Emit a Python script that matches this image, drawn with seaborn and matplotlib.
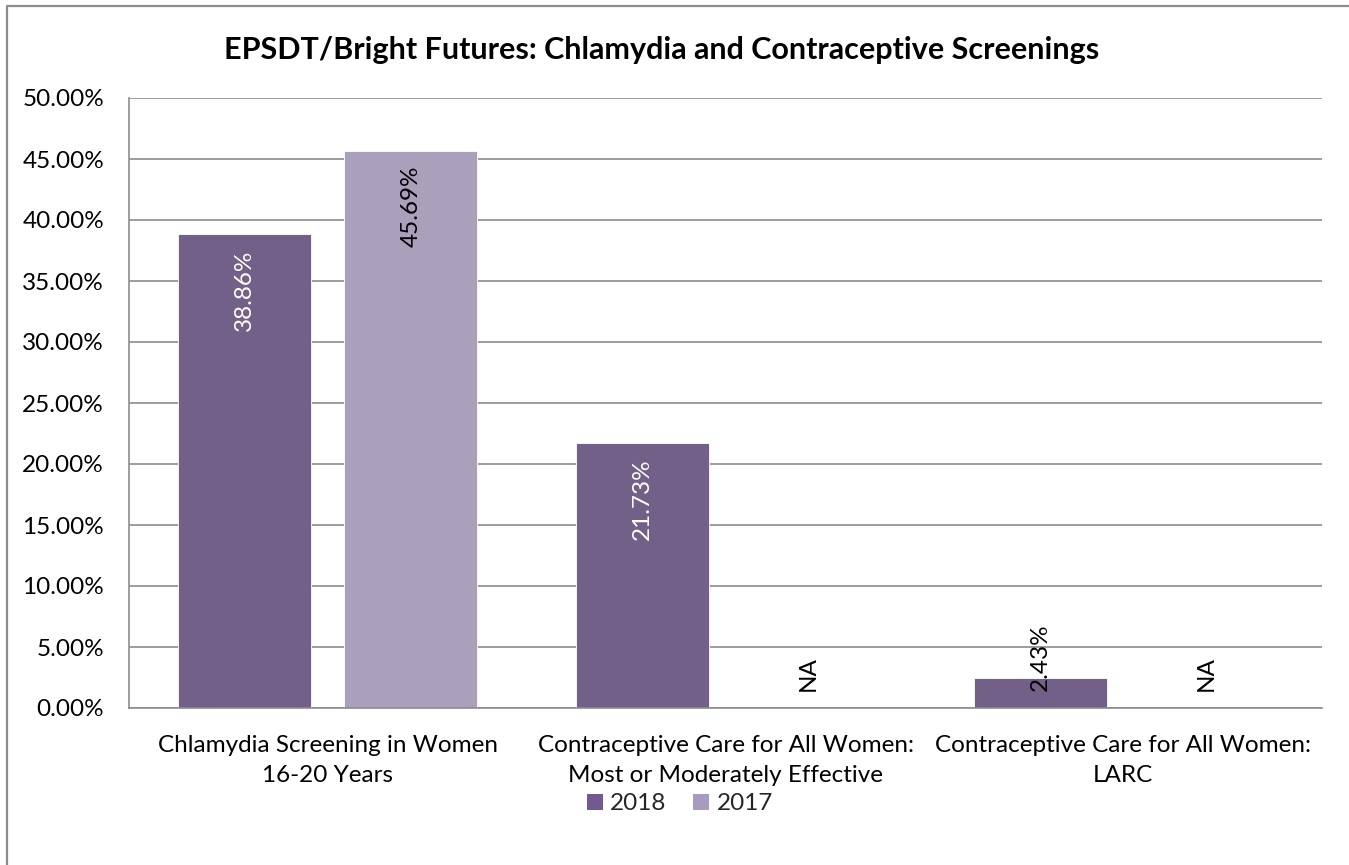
import numpy as np
import pandas as pd
import matplotlib
matplotlib.use("Agg")
import matplotlib.pyplot as plt
from matplotlib.lines import Line2D
from matplotlib.patches import Patch
import seaborn as sns

# ---- data ----
categories = [
    "Chlamydia Screening in Women\n16-20 Years",
    "Contraceptive Care for All Women:\nMost or Moderately Effective",
    "Contraceptive Care for All Women:\nLARC",
]
years = ["2018", "2017"]
values_2018 = [38.86, 21.73, 2.43]
values_2017 = [45.69, None, None]
yticks = [0, 5, 10, 15, 20, 25, 30, 35, 40, 45, 50]
title = "EPSDT/Bright Futures: Chlamydia and Contraceptive Screenings"

colors = {"2018": "#72598F", "2017": "#A99BC0"}

sns.set_theme(style="white")
plt.rcParams["font.family"] = ["Lato", "DejaVu Sans"]

rows = []
for cat, v18, v17 in zip(categories, values_2018, values_2017):
    rows.append({"category": cat, "year": "2018", "value": v18})
    rows.append({"category": cat, "year": "2017", "value": v17})
df = pd.DataFrame(rows)
df["plotval"] = df["value"].fillna(0.0)

FS = 17.5

fig = plt.figure(figsize=(13.49, 8.65), dpi=100)
ax = fig.add_axes([129 / 1349, 1 - 708 / 865, (1322 - 129) / 1349, (708 - 98) / 865])

sns.barplot(data=df, x="category", y="plotval", hue="year", hue_order=years,
            order=categories, palette=colors, width=0.835, gap=0.2,
            edgecolor="white", linewidth=0.6, ax=ax, legend=False, errorbar=None)

ax.set_ylim(0, 50)
ax.set_yticks(yticks)
ax.set_yticklabels([f"{t:.2f}%" for t in yticks])
ax.set_xlabel("")
ax.set_ylabel("")
ax.set_axisbelow(True)
ax.yaxis.grid(True, color="#8c8c8c", linewidth=1.2)
ax.xaxis.grid(False)
for side in ["top", "right"]:
    ax.spines[side].set_visible(False)
for side in ["left", "bottom"]:
    ax.spines[side].set_color("#8c8c8c")
    ax.spines[side].set_linewidth(1.2)
ax.tick_params(axis="y", length=0, pad=18, labelsize=FS, labelcolor="black")
ax.tick_params(axis="x", length=0, pad=19.5, labelsize=FS, labelcolor="black")
for lbl in ax.get_xticklabels():
    lbl.set_linespacing(1.55)

# ---- data labels ----
series_vals = {"2018": values_2018, "2017": values_2017}
for year, container in zip(years, ax.containers):
    for patch, v in zip(container.patches, series_vals[year]):
        xc = patch.get_x() + patch.get_width() / 2
        if v is None:
            ax.annotate("NA", (xc, 0), xytext=(0, 12), textcoords="offset points",
                        rotation=90, ha="center", va="bottom", fontsize=FS, color="black")
        elif v < 6:
            ax.annotate(f"{v:.2f}%", (xc, 0), xytext=(0, 12), textcoords="offset points",
                        rotation=90, ha="center", va="bottom", fontsize=FS, color="black")
        else:
            col = "white" if year == "2018" else "black"
            ax.annotate(f"{v:.2f}%", (xc, v), xytext=(0, -11), textcoords="offset points",
                        rotation=90, ha="center", va="top", fontsize=FS, color=col)

# ---- title ----
fig.text(662 / 1349, 1 - 50 / 865, title, ha="center", va="center",
         fontsize=22, fontweight="bold", color="black")

# ---- legend ----
handles = [Patch(facecolor=colors[y], edgecolor="none", label=y) for y in years]
fig.legend(handles=handles, loc="center", bbox_to_anchor=(680 / 1349, 1 - 804 / 865),
           ncol=2, frameon=False, fontsize=FS, handlelength=0.65, handleheight=0.65,
           handletextpad=0.3, columnspacing=1.1)

# ---- outer chart border (left and top only visible) ----
fig.add_artist(Line2D([7 / 1349, 7 / 1349, 1.0], [0.0, 1 - 6 / 865, 1 - 6 / 865],
                      transform=fig.transFigure, color="#8c8c8c", linewidth=1.6))

fig.savefig("out.png", dpi=100)
